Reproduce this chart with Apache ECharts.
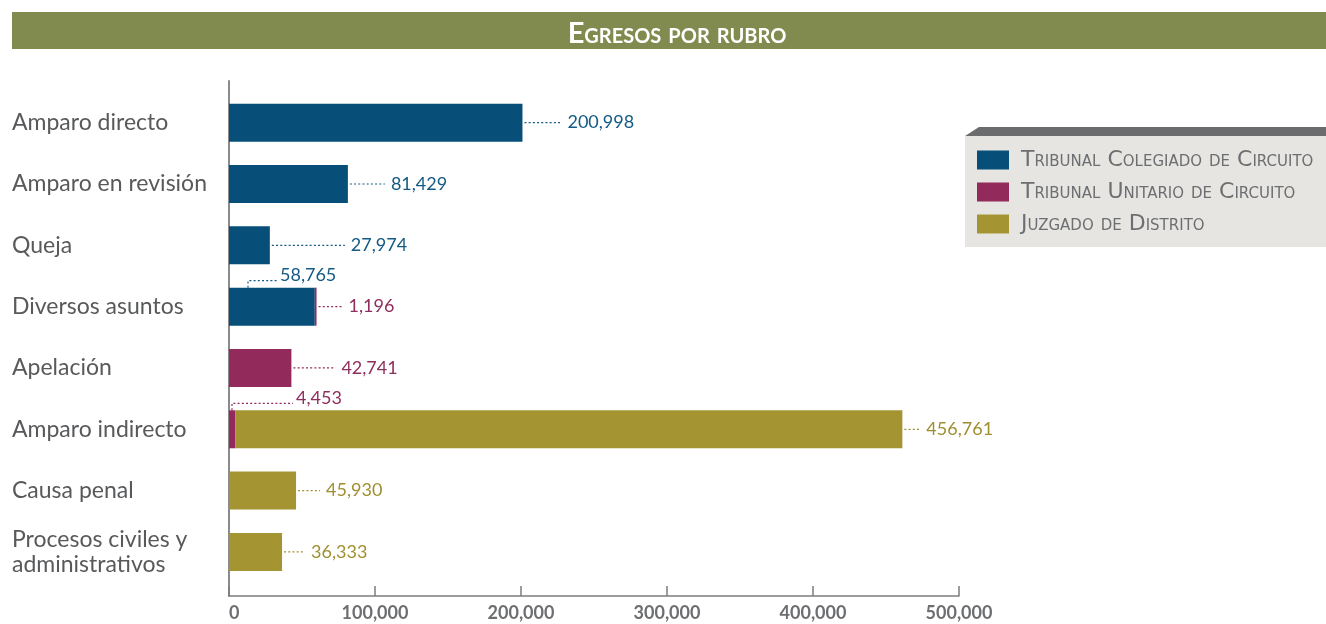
<!DOCTYPE html>
<html>
<head>
<meta charset="utf-8">
<script src="https://cdn.jsdelivr.net/npm/echarts@6/dist/echarts.min.js"></script>
<style>
html,body{margin:0;padding:0;background:#fff;}
#chart{width:1326px;height:624px;}
</style>
</head>
<body>
<div id="chart"></div>
<script>
// ---- data ----
const categories = ['Amparo directo','Amparo en revisión','Queja','Diversos asuntos','Apelación','Amparo indirecto','Causa penal','Procesos civiles y\nadministrativos'];
const seriesNames = ['Tribunal Colegiado de Circuito','Tribunal Unitario de Circuito','Juzgado de Distrito'];
const colegiado = [200998, 81429, 27974, 58765, null, null, null, null];
const unitario  = [null, null, null, 1196, 42741, 4453, null, null];
const juzgado   = [null, null, null, null, null, 456761, 45930, 36333];
const xTicks = [0, 100000, 200000, 300000, 400000, 500000];

// ---- styles / layout (not data) ----
const barColors = ['#074f79', '#922a5b', '#a59432'];
const textColors = ['#135a84', '#8f2d5e', '#a08f30'];
const leaders = {
  '0-0': {len: 39}, '0-1': {len: 37}, '0-2': {len: 75},
  '0-3': {above: true, anchor: 19, rise: 7, len: 29},
  '1-3': {len: 26}, '1-4': {len: 44},
  '1-5': {above: true, anchor: 3, rise: 7, len: 61},
  '2-5': {len: 18}, '2-6': {len: 24}, '2-7': {len: 23}
};

const values = [colegiado, unitario, juzgado];
const labelData = [];
values.forEach((arr, s) => {
  arr.forEach((v, c) => {
    if (v == null) return;
    let end = 0;
    for (let k = 0; k <= s; k++) end += (values[k][c] || 0);
    labelData.push([end, c, s, v]);
  });
});

const chart = echarts.init(document.getElementById('chart'), null, {renderer: 'canvas'});
const FONT = 'Lato';

const option = {
  backgroundColor: '#ffffff',
  animation: false,
  title: {
    text: 'Egresos por rubro',
    left: 672, top: 14, textAlign: 'center',
    textStyle: {color: '#ffffff', fontSize: 29, fontWeight: 'bold', fontStyle: 'small-caps', fontFamily: FONT}
  },
  graphic: [
    {type: 'rect', z: -10, shape: {x: 12, y: 12, width: 1314, height: 37}, style: {fill: '#818b4f'}},
    {type: 'polygon', z: -10, shape: {points: [[965,136],[979,127],[1326,127],[1326,136]]}, style: {fill: '#6b6c6e'}},
    {type: 'rect', z: -10, shape: {x: 965, y: 136, width: 361, height: 111}, style: {fill: '#e6e5e1'}}
  ],
  legend: {
    orient: 'vertical', left: 977, top: 149, padding: 0,
    itemWidth: 32, itemHeight: 19, itemGap: 10, icon: 'rect',
    selectedMode: false,
    data: seriesNames,
    textStyle: {color: '#6d6e71', fontSize: 22, fontStyle: 'small-caps', fontFamily: 'DejaVu Sans', padding: [0,0,0,7]}
  },
  grid: [
    {left: 229, width: 730, top: 92, height: 490.6},
    {left: 229, width: 730, top: 81, height: 515}
  ],
  xAxis: [
    {gridIndex: 0, type: 'value', min: 0, max: 500000, show: false},
    {gridIndex: 1, type: 'value', min: xTicks[0], max: xTicks[xTicks.length-1], interval: 100000,
     axisLine: {show: true, lineStyle: {color: '#7d7e80', width: 1.5}},
     axisTick: {show: true, inside: true, length: 10, lineStyle: {color: '#7d7e80', width: 1.5}},
     splitLine: {show: false},
     axisLabel: {margin: 8, color: '#6d6e71', fontSize: 18, fontWeight: 'bold', fontFamily: FONT,
       alignMinLabel: 'left',
       formatter: v => v.toLocaleString('en-US')}}
  ],
  yAxis: [
    {gridIndex: 0, type: 'category', inverse: true, data: categories,
     axisLine: {show: false}, axisTick: {show: false},
     axisLabel: {align: 'left', margin: 217, color: '#58595b', fontSize: 23, fontFamily: FONT, lineHeight: 25}},
    {gridIndex: 1, type: 'value', min: 0, max: 1,
     axisLine: {show: true, lineStyle: {color: '#8a8b8d', width: 2}},
     axisTick: {show: false}, axisLabel: {show: false}, splitLine: {show: false}}
  ],
  series: [
    ...values.map((arr, s) => ({
      type: 'bar', name: seriesNames[s], stack: 'total', data: arr,
      xAxisIndex: 0, yAxisIndex: 0, barWidth: 38,
      itemStyle: {color: barColors[s]}
    })),
    {
      type: 'custom', xAxisIndex: 0, yAxisIndex: 0, clip: false, z: 5,
      data: labelData,
      renderItem: function (params, api) {
        const end = api.value(0), c = api.value(1), s = api.value(2), v = api.value(3);
        const lay = leaders[s + '-' + c] || {len: 20};
        const txt = Number(v).toLocaleString('en-US');
        const col = textColors[s];
        const lineStyle = {stroke: col, lineWidth: 1.2, lineDash: [2, 2.2], fill: null};
        const tStyle = {text: txt, fill: col, fontSize: 18, fontFamily: FONT};
        if (lay.above) {
          const p0 = api.coord([0, c]);
          const top = p0[1] - 19;
          const x = p0[0] + lay.anchor;
          const yl = top - lay.rise;
          return {type: 'group', children: [
            {type: 'polyline', shape: {points: [[x, top], [x, yl], [x + lay.len, yl]]}, style: lineStyle},
            {type: 'text', x: x + lay.len + 3, y: yl - 5, style: Object.assign({align: 'left', verticalAlign: 'middle'}, tStyle)}
          ]};
        }
        const p = api.coord([end, c]);
        return {type: 'group', children: [
          {type: 'line', shape: {x1: p[0] + 2, y1: p[1], x2: p[0] + lay.len, y2: p[1]}, style: lineStyle},
          {type: 'text', x: p[0] + lay.len + 6, y: p[1], style: Object.assign({align: 'left', verticalAlign: 'middle'}, tStyle)}
        ]};
      }
    }
  ]
};
chart.setOption(option);
</script>
</body>
</html>
